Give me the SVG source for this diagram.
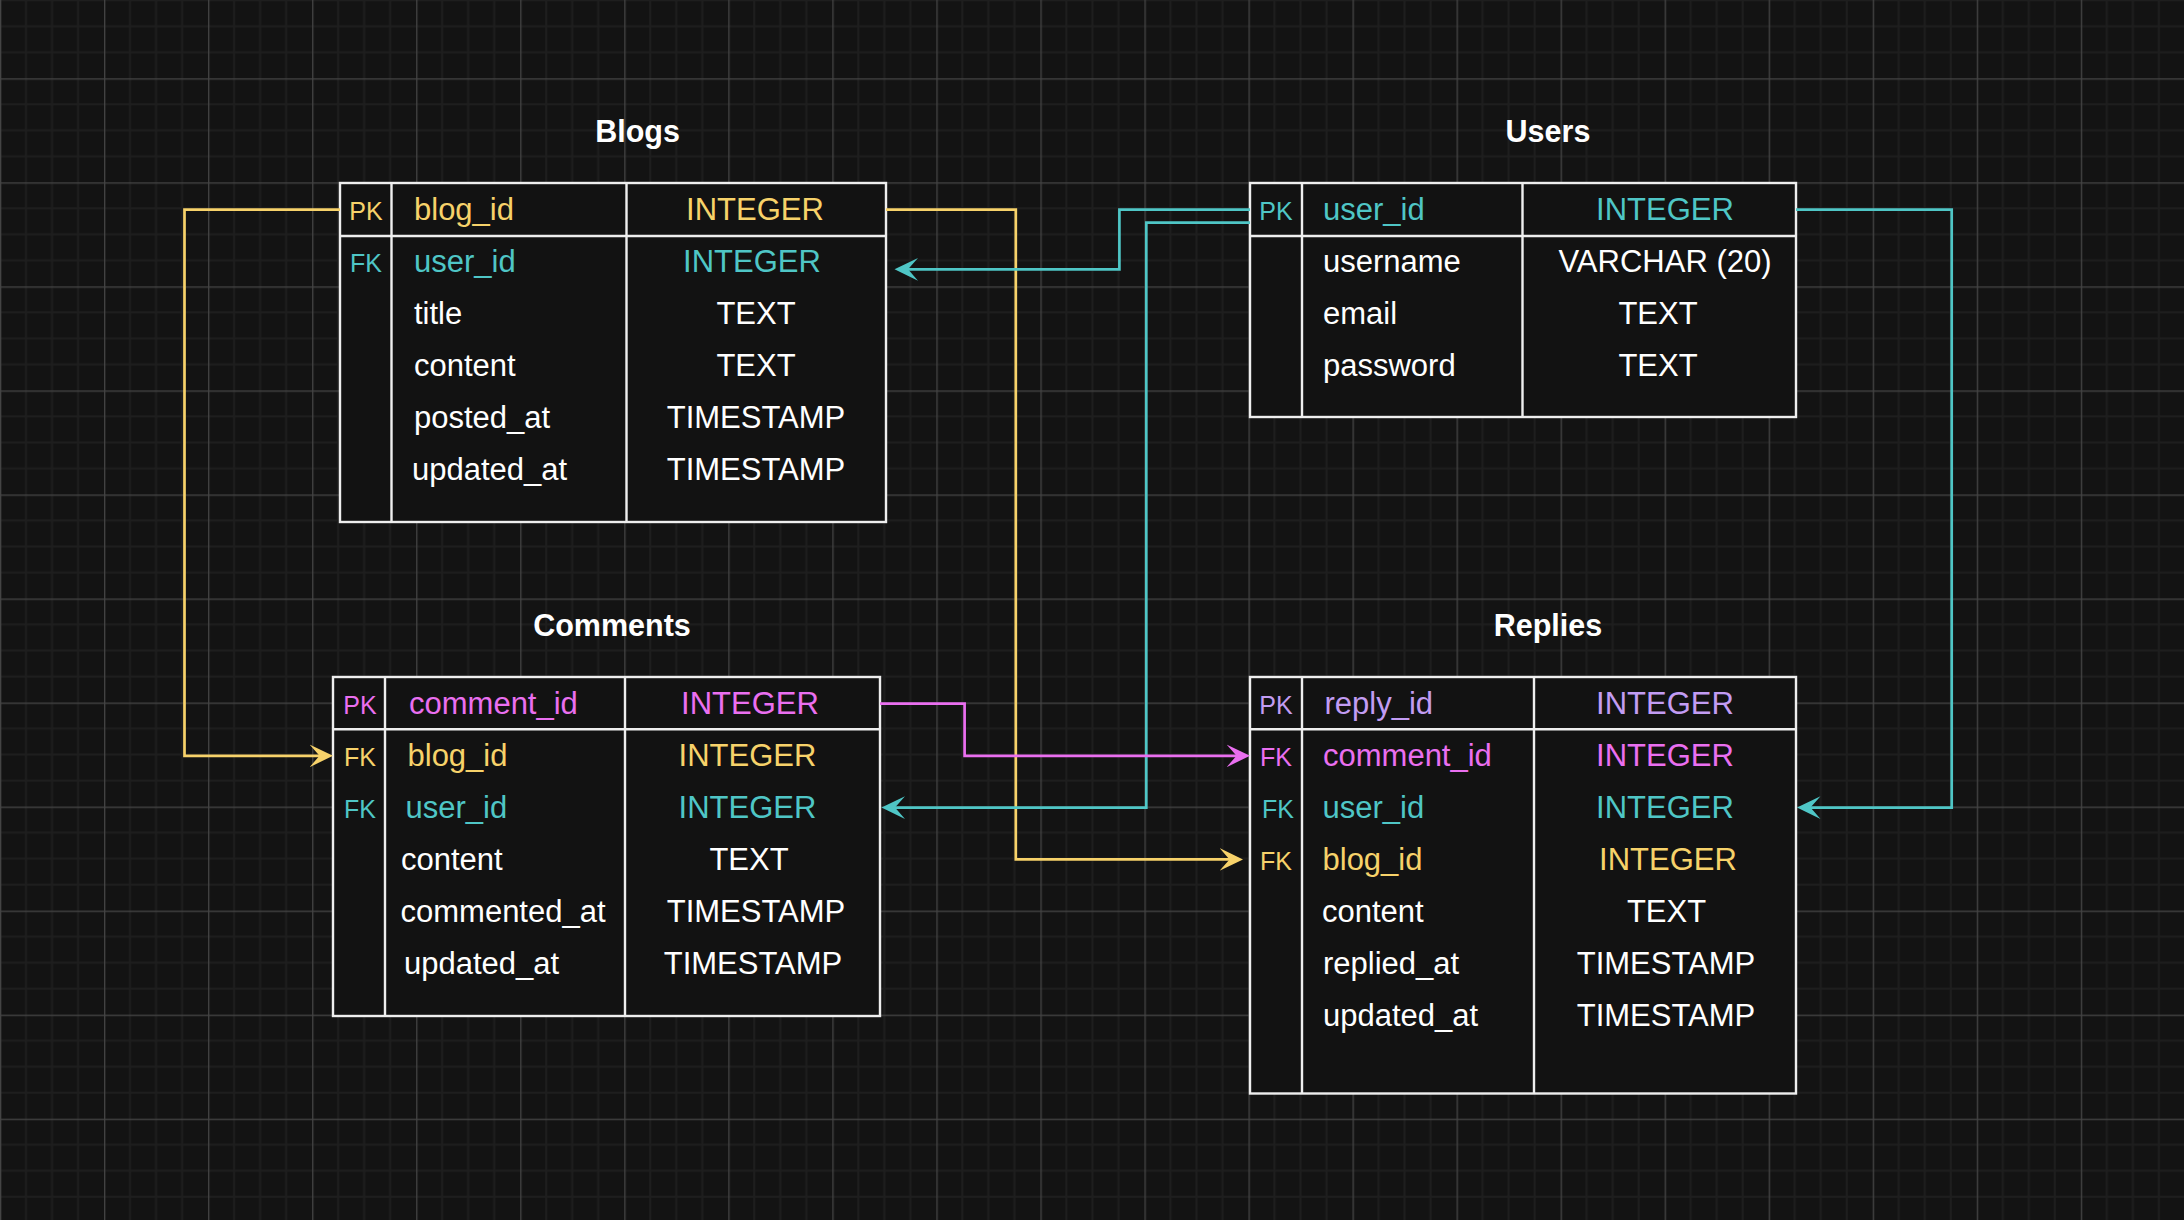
<svg xmlns="http://www.w3.org/2000/svg" width="2184" height="1220" viewBox="0 0 2184 1220">
<defs>
<pattern id="grid" x="0" y="78.3" width="104.04" height="104.04" patternUnits="userSpaceOnUse">
<rect x="0" y="0" width="104.04" height="104.04" fill="#131313"/>
<rect x="25.01" y="0" width="2" height="104.04" fill="#1e1e1e"/>
<rect x="51.02" y="0" width="2" height="104.04" fill="#1e1e1e"/>
<rect x="77.03" y="0" width="2" height="104.04" fill="#1e1e1e"/>
<rect x="0" y="25.01" width="104.04" height="2" fill="#1e1e1e"/>
<rect x="0" y="51.02" width="104.04" height="2" fill="#1e1e1e"/>
<rect x="0" y="77.03" width="104.04" height="2" fill="#1e1e1e"/>
<rect x="0" y="0" width="1.3" height="104.04" fill="#444444"/>
<rect x="0" y="0" width="104.04" height="1.3" fill="#444444"/>
</pattern>
<marker id="ay" viewBox="0 0 24 24" refX="12" refY="12" markerWidth="24" markerHeight="24" markerUnits="userSpaceOnUse" orient="auto"><path d="M0,0.6 L23.5,12 L0,23.4 L10,12 Z" fill="#f7d26a"/></marker>
<marker id="ac" viewBox="0 0 24 24" refX="12" refY="12" markerWidth="24" markerHeight="24" markerUnits="userSpaceOnUse" orient="auto"><path d="M0,0.6 L23.5,12 L0,23.4 L10,12 Z" fill="#4fc6c6"/></marker>
<marker id="ap" viewBox="0 0 24 24" refX="12" refY="12" markerWidth="24" markerHeight="24" markerUnits="userSpaceOnUse" orient="auto"><path d="M0,0.6 L23.5,12 L0,23.4 L10,12 Z" fill="#ea6ff0"/></marker>
</defs>
<style>
text { font-family: "Liberation Sans", Arial, Helvetica, sans-serif; fill: #ffffff; }
.title { font-size: 30.5px; font-weight: bold; text-anchor: middle; }
.k { font-size: 25px; text-anchor: middle; }
.n { font-size: 31px; }
.t { font-size: 31px; text-anchor: middle; }
.tb { fill: #121212; stroke: #eeeeee; stroke-width: 2.4; }
.tl { fill: none; stroke: #eeeeee; stroke-width: 2.4; }
.y { fill: #f7d26a; }
.c { fill: #4fc6c6; }
.p { fill: #ea6ff0; }
.v { fill: #c29cf3; }
.cn { fill: none; stroke-width: 2.7; }
</style>
<rect x="0" y="0" width="2184" height="1220" fill="url(#grid)"/>

<g id="blogs">
<text class="title" x="637.5" y="141.5">Blogs</text>
<rect class="tb" x="340" y="183" width="546" height="339"/>
<path class="tl" d="M340,236 H886 M391.5,183 V522 M626.5,183 V522"/>
<text class="k y" x="366" y="220">PK</text>
<text class="n y" x="414" y="220">blog_id</text>
<text class="t y" x="755" y="220">INTEGER</text>
<text class="k c" x="366" y="272">FK</text>
<text class="n c" x="414" y="272">user_id</text>
<text class="t c" x="752" y="272">INTEGER</text>
<text class="n" x="414" y="324">title</text>
<text class="t" x="756" y="324">TEXT</text>
<text class="n" x="414" y="376">content</text>
<text class="t" x="756" y="376">TEXT</text>
<text class="n" x="414" y="428">posted_at</text>
<text class="t" x="756" y="428">TIMESTAMP</text>
<text class="n" x="412" y="480">updated_at</text>
<text class="t" x="756" y="480">TIMESTAMP</text>
</g>

<g id="users">
<text class="title" x="1548" y="141.5">Users</text>
<rect class="tb" x="1250" y="183" width="546" height="234"/>
<path class="tl" d="M1250,236 H1796 M1302,183 V417 M1522.5,183 V417"/>
<text class="k c" x="1276" y="220">PK</text>
<text class="n c" x="1323" y="220">user_id</text>
<text class="t c" x="1665" y="220">INTEGER</text>
<text class="n" x="1323" y="272">username</text>
<text class="t" x="1665" y="272">VARCHAR (20)</text>
<text class="n" x="1323" y="324">email</text>
<text class="t" x="1658" y="324">TEXT</text>
<text class="n" x="1323" y="376">password</text>
<text class="t" x="1658" y="376">TEXT</text>
</g>

<g id="comments">
<text class="title" x="612" y="636.4">Comments</text>
<rect class="tb" x="333" y="677" width="547" height="339"/>
<path class="tl" d="M333,729.3 H880 M385,677 V1016 M625,677 V1016"/>
<text class="k p" x="360" y="714">PK</text>
<text class="n p" x="409" y="714">comment_id</text>
<text class="t p" x="750" y="714">INTEGER</text>
<text class="k y" x="360" y="766">FK</text>
<text class="n y" x="407.5" y="766">blog_id</text>
<text class="t y" x="747.5" y="766">INTEGER</text>
<text class="k c" x="360" y="818">FK</text>
<text class="n c" x="405.5" y="818">user_id</text>
<text class="t c" x="747.5" y="818">INTEGER</text>
<text class="n" x="401" y="870">content</text>
<text class="t" x="749" y="870">TEXT</text>
<text class="n" x="400.5" y="922">commented_at</text>
<text class="t" x="756" y="922">TIMESTAMP</text>
<text class="n" x="404" y="974">updated_at</text>
<text class="t" x="753" y="974">TIMESTAMP</text>
</g>

<g id="replies">
<text class="title" x="1548" y="636.4">Replies</text>
<rect class="tb" x="1250" y="677" width="546" height="416.5"/>
<path class="tl" d="M1250,729.3 H1796 M1302,677 V1093.5 M1534,677 V1093.5"/>
<text class="k v" x="1276" y="714">PK</text>
<text class="n v" x="1324.5" y="714">reply_id</text>
<text class="t v" x="1665" y="714">INTEGER</text>
<text class="k p" x="1276" y="766">FK</text>
<text class="n p" x="1323" y="766">comment_id</text>
<text class="t p" x="1665" y="766">INTEGER</text>
<text class="k c" x="1278" y="818">FK</text>
<text class="n c" x="1322.5" y="818">user_id</text>
<text class="t c" x="1665" y="818">INTEGER</text>
<text class="k y" x="1276" y="870">FK</text>
<text class="n y" x="1322.5" y="870">blog_id</text>
<text class="t y" x="1668" y="870">INTEGER</text>
<text class="n" x="1322" y="922">content</text>
<text class="t" x="1666.5" y="922">TEXT</text>
<text class="n" x="1323" y="974">replied_at</text>
<text class="t" x="1666" y="974">TIMESTAMP</text>
<text class="n" x="1323" y="1026">updated_at</text>
<text class="t" x="1666" y="1026">TIMESTAMP</text>
</g>

<g id="connectors">
<path class="cn" stroke="#f7d26a" marker-end="url(#ay)" d="M340,209.6 H184.5 V755.8 H321.5"/>
<path class="cn" stroke="#f7d26a" marker-end="url(#ay)" d="M886,209.6 H1015.8 V859.4 H1231.5"/>
<path class="cn" stroke="#4fc6c6" marker-end="url(#ac)" d="M1250,209.6 H1119.4 V269.3 H906"/>
<path class="cn" stroke="#4fc6c6" marker-end="url(#ac)" d="M1250,222.6 H1146.3 V807.6 H893"/>
<path class="cn" stroke="#4fc6c6" marker-end="url(#ac)" d="M1796,209.6 H1951.7 V807.6 H1808.5"/>
<path class="cn" stroke="#ea6ff0" marker-end="url(#ap)" d="M880,703.6 H964.6 V755.8 H1238.5"/>
</g>
</svg>
